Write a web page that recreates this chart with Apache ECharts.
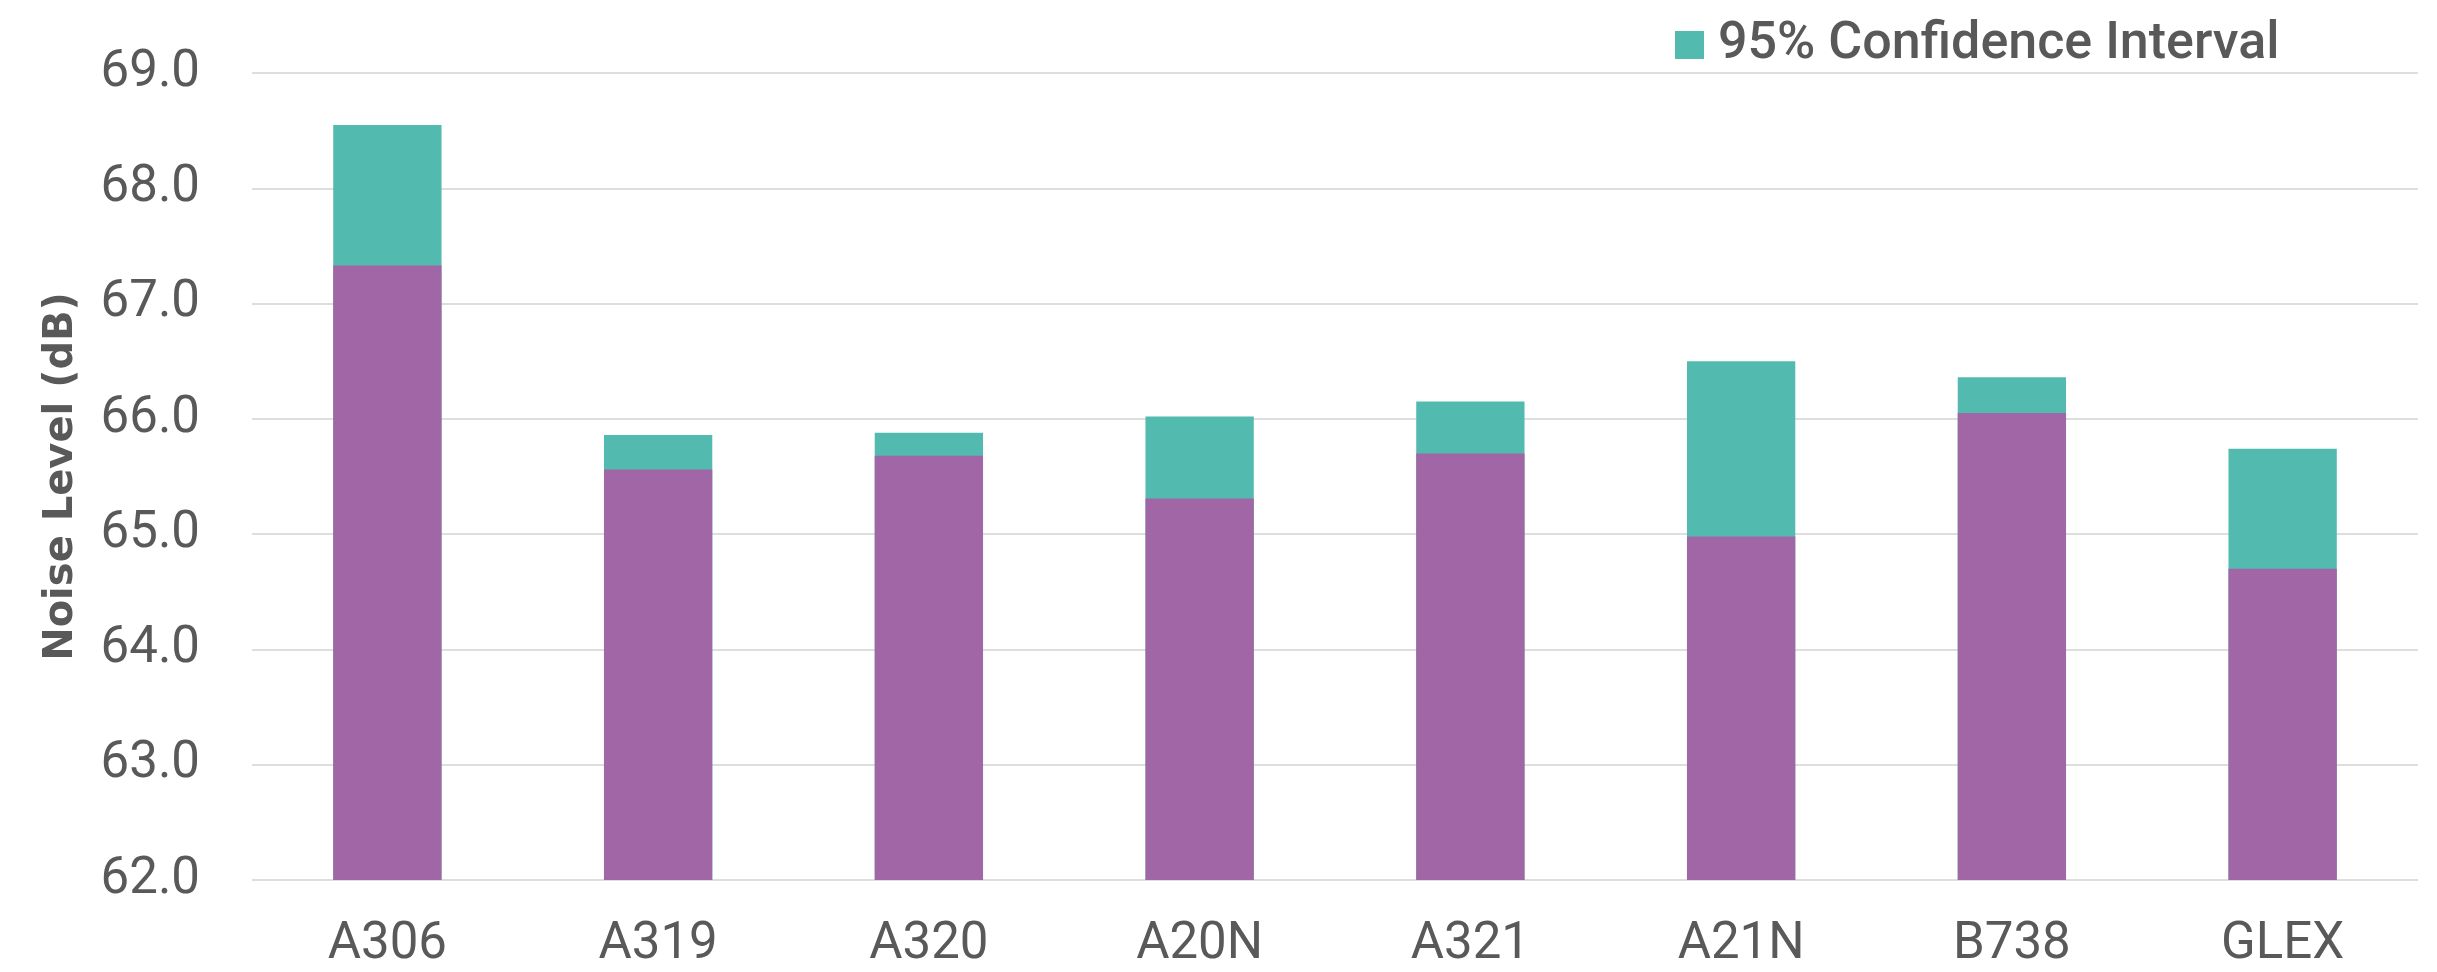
<!DOCTYPE html>
<html>
<head>
<meta charset="utf-8">
<title>Noise Level</title>
<script src="https://cdn.jsdelivr.net/npm/echarts@6/dist/echarts.min.js"></script>
<style>
  html, body { margin: 0; padding: 0; background: #ffffff; }
  #chart { width: 2437px; height: 972px; }
</style>
</head>
<body>
<div id="chart"></div>
<script>
// aircraft types
let aircraft = ['A306', 'A319', 'A320', 'A20N', 'A321', 'A21N', 'B738', 'GLEX'];
// lower and upper bound of the 95% confidence interval (dB)
let lowerBound = [67.33, 65.56, 65.68, 65.31, 65.70, 64.98, 66.05, 64.70];
let upperBound = [68.55, 65.86, 65.88, 66.02, 66.15, 66.50, 66.36, 65.74];
let yTicks = { min: 62, max: 69, interval: 1 };

let textColor = '#595959';
let fontName = 'Roboto';

let chartDom = document.getElementById('chart');
let myChart = echarts.init(chartDom);
let option;

option = {
  animation: false,
  legend: {
    data: ['95% Confidence Interval'],
    left: 1670,
    top: 14,
    itemWidth: 29,
    itemHeight: 28,
    icon: 'rect',
    textStyle: {
      color: textColor,
      fontFamily: fontName,
      fontWeight: 500,
      fontSize: 52,
      padding: [0, 0, 0, 9],
    },
  },
  grid: {
    left: 252,
    right: 19,
    top: 73,
    bottom: 92,
  },
  xAxis: {
    type: 'category',
    data: aircraft,
    axisLine: { show: false },
    axisTick: { show: false },
    axisLabel: {
      color: textColor,
      fontFamily: fontName,
      fontSize: 51,
      margin: 40,
    },
  },
  yAxis: {
    type: 'value',
    min: yTicks.min,
    max: yTicks.max,
    interval: yTicks.interval,
    name: 'Noise Level (dB)',
    nameLocation: 'middle',
    nameGap: 170,
    nameTextStyle: {
      color: textColor,
      fontFamily: 'DejaVu Sans',
      fontWeight: 'bold',
      fontSize: 40,
    },
    axisLabel: {
      color: textColor,
      fontFamily: fontName,
      fontSize: 51,
      margin: 52,
      formatter: (v) => v.toFixed(1),
    },
    splitLine: {
      lineStyle: { color: '#dedede', width: 2 },
    },
  },
  series: [
    {
      name: '95% Confidence Interval',
      type: 'bar',
      data: upperBound,
      barWidth: '40%',
      barGap: '-100%',
      itemStyle: { color: '#52baae' },
    },
    {
      name: 'Lower',
      type: 'bar',
      data: lowerBound,
      barWidth: '40%',
      itemStyle: { color: '#a166a6' },
    },
  ],
};

option && myChart.setOption(option);
</script>
</body>
</html>
